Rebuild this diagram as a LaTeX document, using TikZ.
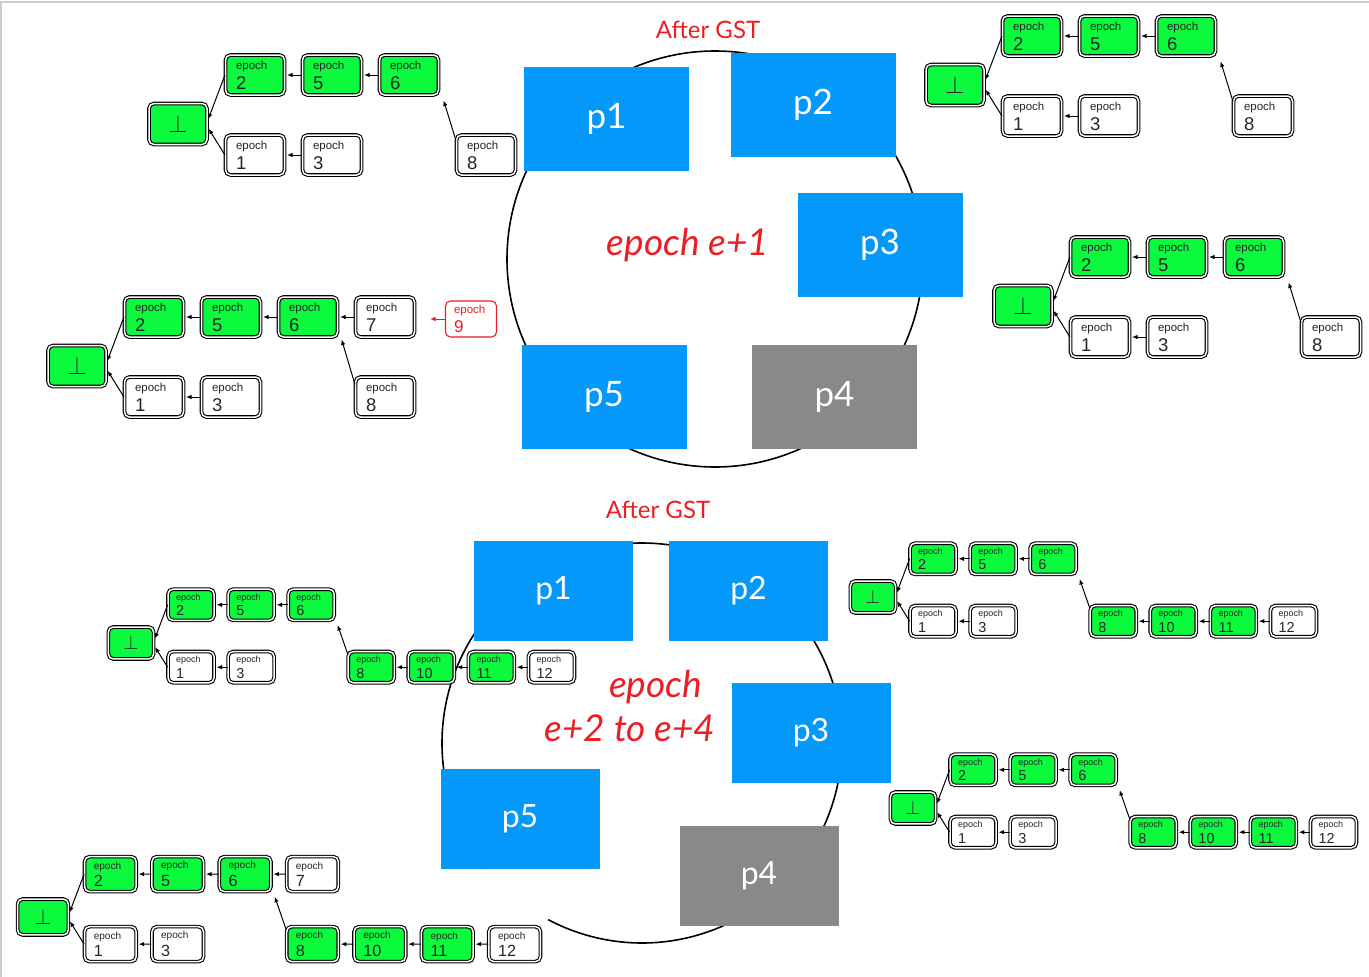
\documentclass[tikz,border=0pt]{standalone}
\usepackage{fontspec}
\setmainfont{Liberation Sans}
\newfontfamily\pfont{Lato}
\usetikzlibrary{arrows.meta}

\definecolor{procblue}{RGB}{3,152,250}
\definecolor{procgray}{RGB}{137,137,137}
\definecolor{okgreen}{RGB}{12,250,62}
\definecolor{gstred}{RGB}{235,30,35}

\tikzset{
  block/.style={draw=black, double=white, double distance=1.5pt, line width=1.1pt,
    rounded corners=5pt, fill=white, minimum width=59pt, minimum height=40pt,
    text width=38pt, align=left, inner sep=0pt, text=black!85,
    font=\fontsize{18.5}{20}\selectfont},
  commit/.style={fill=okgreen},
  genesis/.style={block, fill=okgreen, align=center, minimum width=58pt,
    minimum height=41pt, font=\fontsize{25}{25}\selectfont},
  late/.style={draw=gstred, line width=1.1pt, rounded corners=5pt, fill=white,
    minimum width=51pt, minimum height=36pt, text width=34pt, align=left,
    inner sep=0pt, text=gstred, font=\fontsize{17}{19}\selectfont},
  toparent/.style={-{Latex[length=5.5pt,width=4.5pt]}, line width=1pt, shorten >=2pt},
  redparent/.style={toparent, draw=gstred, fill=gstred, shorten >=0pt},
  proc/.style={fill=procblue, text=white, minimum width=165pt, minimum height=104pt,
    inner sep=0pt, font=\pfont\fontsize{35}{35}\selectfont},
  procs/.style={proc, minimum width=159pt, minimum height=100pt,
    font=\pfont\fontsize{32}{32}\selectfont},
  ring/.style={line width=1.6pt},
  gsttxt/.style={text=gstred, font=\pfont\fontsize{24}{24}\selectfont},
  epochtxt/.style={text=gstred, font=\pfont\itshape\fontsize{37}{37}\selectfont}
}

% label inside a block: small "epoch", number below
\newcommand{\ep}[1]{{\fontsize{11.5}{11.5}\selectfont epoch}\\#1}

% the part that every chain shares: genesis, 2-5-6 and 1-3
\newcommand{\basechain}[1]{%
  \node[genesis] (#1bot) at (0,0) {$\perp$};
  \node[block,commit] (#1e2) at (77,-49) {\ep{2}};
  \node[block,commit] (#1e5) at (154,-49) {\ep{5}};
  \node[block,commit] (#1e6) at (231,-49) {\ep{6}};
  \node[block] (#1e1) at (77,31) {\ep{1}};
  \node[block] (#1e3) at (154,31) {\ep{3}};
  \draw[toparent] (#1e5) -- (#1e2);
  \draw[toparent] (#1e6) -- (#1e5);
  \draw[toparent] (#1e3) -- (#1e1);
  \draw[toparent] (#1e2.west) -- ([yshift=3pt]#1bot.east);
  \draw[toparent] (#1e1.west) -- ([yshift=-3pt]#1bot.east);
}

% the long 8-10-11-12 branch of the later epochs
\newcommand{\longbranch}[1]{%
  \node[block,commit] (#1e8) at (308,31) {\ep{8}};
  \node[block,commit] (#1e10) at (385,31) {\ep{10}};
  \node[block,commit] (#1e11) at (462,31) {\ep{11}};
  \node[block] (#1e12) at (539,31) {\ep{12}};
  \draw[toparent] (#1e10) -- (#1e8);
  \draw[toparent] (#1e11) -- (#1e10);
  \draw[toparent] (#1e12) -- (#1e11);
  \draw[toparent] ([yshift=-4pt]#1e8.north west) -- ([xshift=3pt,yshift=-3pt]#1e6.south east);
}

\begin{document}
\begin{tikzpicture}[x=1pt, y=-1pt]

    \useasboundingbox (0,0) rectangle (1369,977);

    % --- page frame ---
    \draw[black!20, line width=2pt] (1,977) -- (1,2) -- (1369,2);

    % --- Rings ---
    \draw[ring] (715,259) circle[radius=208];
    \draw[ring] (642,743) ++(141:200) arc[start angle=141, end angle=478, radius=200];

    % --- Processes, epoch e+1 ---
    \node[proc] (p1) at (606.5,119) {p1};
    \node[proc] (p2) at (813,105) {p2};
    \node[proc] (p3) at (880,245) {p3};
    \node[proc] (p5) at (604,397) {p5};
    \node[proc, fill=procgray] (p4) at (834.5,397) {p4};

    \node[gsttxt] (gsta) at (708,30) {After GST};
    \node[epochtxt, anchor=base] (epa) at (688,255) {epoch e+1};

    % --- Processes, epochs e+2 to e+4 ---
    \node[procs] (q1) at (553.5,591) {p1};
    \node[procs] (q2) at (748.5,591) {p2};
    \node[procs] (q3) at (811,733) {p3};
    \node[procs] (q5) at (520,819) {p5};
    \node[procs, fill=procgray] (q4) at (759,876) {p4};

    \node[gsttxt] (gstb) at (658,510) {After GST};
    \node[epochtxt, anchor=base] (epb) at (655.5,697) {epoch};
    \node[epochtxt, anchor=base] (epc) at (630,741) {e+2 to e+4};

    % --- Chains seen by p1, p2, p3 ---
    \begin{scope}[shift={(178,124)}]
      \basechain{a}
      \node[block] (ae8) at (308,31) {\ep{8}};
      \draw[toparent] ([yshift=-6pt]ae8.north west) -- ([xshift=4pt,yshift=-3pt]ae6.south east);
    \end{scope}

    \begin{scope}[shift={(955,85)}]
      \basechain{b}
      \node[block] (be8) at (308,31) {\ep{8}};
      \draw[toparent] ([yshift=-6pt]be8.north west) -- ([xshift=4pt,yshift=-3pt]be6.south east);
    \end{scope}

    \begin{scope}[shift={(1023,306)}]
      \basechain{c}
      \node[block] (ce8) at (308,31) {\ep{8}};
      \draw[toparent] ([yshift=-6pt]ce8.north west) -- ([xshift=4pt,yshift=-3pt]ce6.south east);
    \end{scope}

    % --- Chain of p5, with the late block 9 ---
    \begin{scope}[shift={(77,366)}]
      \basechain{d}
      \node[block] (de7) at (308,-49) {\ep{7}};
      \node[block] (de8) at (308,31) {\ep{8}};
      \node[late] (de9) at (394,-47) {{\fontsize{11.5}{11.5}\selectfont epoch}\\9};
      \coordinate (de9t) at (353,-47);
      \draw[toparent] (de7) -- (de6);
      \draw[toparent] ([yshift=-8pt]de8.north west) -- ([xshift=3pt]de6.south east);
      \draw[redparent] (de9.west) -- (de9t);
    \end{scope}

    % --- Chains after epochs e+2 to e+4 ---
    \begin{scope}[shift={(131,643)}, scale=0.78, transform shape]
      \basechain{f}
      \longbranch{f}
    \end{scope}

    \begin{scope}[shift={(873,597)}, scale=0.78, transform shape]
      \basechain{g}
      \longbranch{g}
    \end{scope}

    \begin{scope}[shift={(913,808)}, scale=0.78, transform shape]
      \basechain{h}
      \longbranch{h}
    \end{scope}

    \begin{scope}[shift={(43,917)}, scale=0.875, transform shape]
      \basechain{k}
      \node[block] (ke7) at (308,-49) {\ep{7}};
      \draw[toparent] (ke7) -- (ke6);
      \longbranch{k}
    \end{scope}

\end{tikzpicture}
\end{document}
